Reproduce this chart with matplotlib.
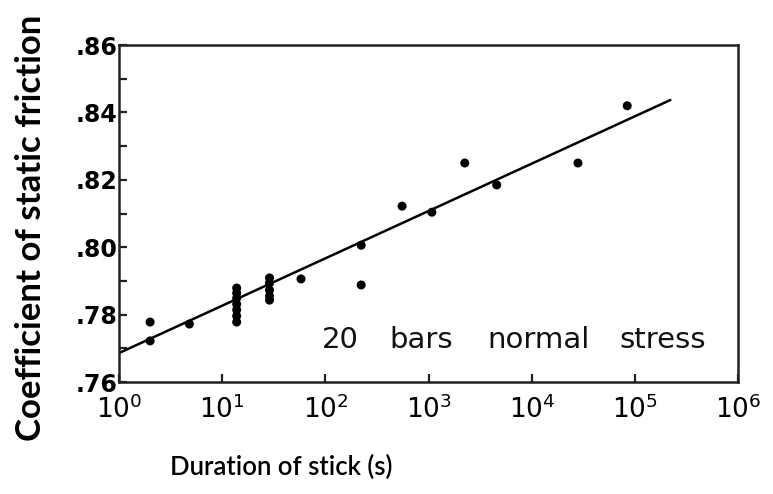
import matplotlib
matplotlib.use("Agg")
import matplotlib.pyplot as plt
from matplotlib.ticker import FixedLocator, FuncFormatter, NullFormatter

# Data
duration_s = [2.0, 2.0, 4.8,
              13.8, 13.8, 13.8, 13.8, 13.8, 13.8, 13.8,
              28.7, 28.7, 28.7, 28.7, 28.7,
              58, 222, 222, 553, 1075, 2240, 4570, 28000, 84000]
friction = [0.7778, 0.7722, 0.7772,
            0.7879, 0.7864, 0.7849, 0.7831, 0.7814, 0.7796, 0.7778,
            0.7909, 0.7894, 0.7873, 0.7855, 0.7843,
            0.7906, 0.8006, 0.7888, 0.8122, 0.8104, 0.8250, 0.8185, 0.8250, 0.8420]

fit_x = [1.0, 2.2e5]
fit_y = [0.7686, 0.8437]

y_major = [0.76, 0.78, 0.80, 0.82, 0.84, 0.86]
y_minor = [0.77, 0.79, 0.81, 0.83, 0.85]
x_major = [1e0, 1e1, 1e2, 1e3, 1e4, 1e5, 1e6]

annotation_words = ["20", "bars", "normal", "stress"]

fig = plt.figure(figsize=(7.73, 4.94), dpi=100)
ax = fig.add_axes([0.154, 0.2267, 0.801, 0.682])

ax.plot(fit_x, fit_y, color="black", lw=1.8, solid_capstyle="round")
ax.scatter(duration_s, friction, s=42, color="black", zorder=3, edgecolors="none")

ax.set_xscale("log")
ax.set_xlim(1, 1e6)
ax.set_ylim(0.76, 0.86)

ax.xaxis.set_major_locator(FixedLocator(x_major))
ax.xaxis.set_minor_locator(FixedLocator([]))
ax.xaxis.set_minor_formatter(NullFormatter())
ax.yaxis.set_major_locator(FixedLocator(y_major))
ax.yaxis.set_minor_locator(FixedLocator(y_minor))
ax.yaxis.set_major_formatter(FuncFormatter(lambda v, p: ("%.2f" % v).lstrip("0")))

for s in ax.spines.values():
    s.set_linewidth(1.8)
    s.set_color("#222222")

ax.tick_params(axis="both", which="both", direction="in", length=6, width=1.6,
               top=False, right=False, color="#222222")
ax.tick_params(axis="y", labelsize=17, pad=1)
ax.tick_params(axis="x", labelsize=19, pad=10)
for lab in ax.get_yticklabels():
    lab.set_fontweight("bold")

# annotation words at their positions (axes fraction)
word_x = [0.328, 0.436, 0.595, 0.808]
for w, xw in zip(annotation_words, word_x):
    ax.text(xw, 0.125, w, transform=ax.transAxes, fontsize=21,
            ha="left", va="center", color="#111111")

fig.text(0.040, 0.538, "Coefficient of static friction", rotation=90,
         ha="center", va="center", fontsize=25, fontweight="bold",
         family="Lato")
fig.text(0.3635, 0.055, "Duration of stick (s)", ha="center", va="center",
         fontsize=18.5, family="Lato", fontweight="semibold")

fig.savefig("out.png", dpi=100)
